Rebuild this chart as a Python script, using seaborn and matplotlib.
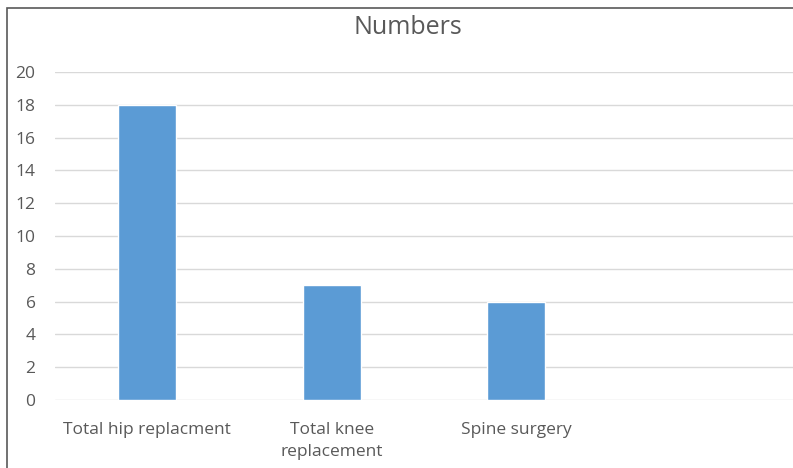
import matplotlib
matplotlib.use("Agg")
import matplotlib.pyplot as plt
import seaborn as sns
import pandas as pd
from matplotlib.patches import Rectangle

# data
categories = ["Total hip replacment", "Total knee\nreplacement", "Spine surgery"]
numbers = [18, 7, 6]
y_ticks = [0, 2, 4, 6, 8, 10, 12, 14, 16, 18, 20]

df = pd.DataFrame({"Procedure": categories, "Numbers": numbers})

sns.set_style("white")
plt.rcParams["font.family"] = ["Open Sans", "DejaVu Sans"]

fig = plt.figure(figsize=(7.93, 4.68), dpi=100)
ax = fig.add_axes([55 / 793, 1 - 400 / 468, 1 - 55 / 793, (400 - 72) / 468])

sns.barplot(data=df, x="Procedure", y="Numbers", color="#5b9bd5",
            width=0.315, saturation=1, ax=ax, zorder=3)

ax.set_xlim(-0.5, 3.5)
ax.set_ylim(0, 20)
ax.set_yticks(y_ticks)
ax.grid(axis="y", color="#d9d9d9", linewidth=1, zorder=0)
for s in ax.spines.values():
    s.set_visible(False)
ax.tick_params(axis="both", length=0, labelcolor="#595959", labelsize=12.5)
ax.tick_params(axis="x", pad=16)
ax.tick_params(axis="y", pad=14)
for lbl in ax.get_xticklabels():
    lbl.set_linespacing(1.5)
ax.set_xlabel("")
ax.set_ylabel("")

fig.text(408 / 793, 1 - 27 / 468, "Numbers", ha="center", va="center",
         fontsize=18, color="#595959")

# outer chart border (cropped on right and bottom)
fig.patches.append(Rectangle((7 / 793, -0.1), 1.2, 1 - 8 / 468 + 0.1,
                             transform=fig.transFigure, fill=False,
                             edgecolor="#595959", linewidth=1.2))

fig.savefig("out.png", dpi=100)
plt.close()
